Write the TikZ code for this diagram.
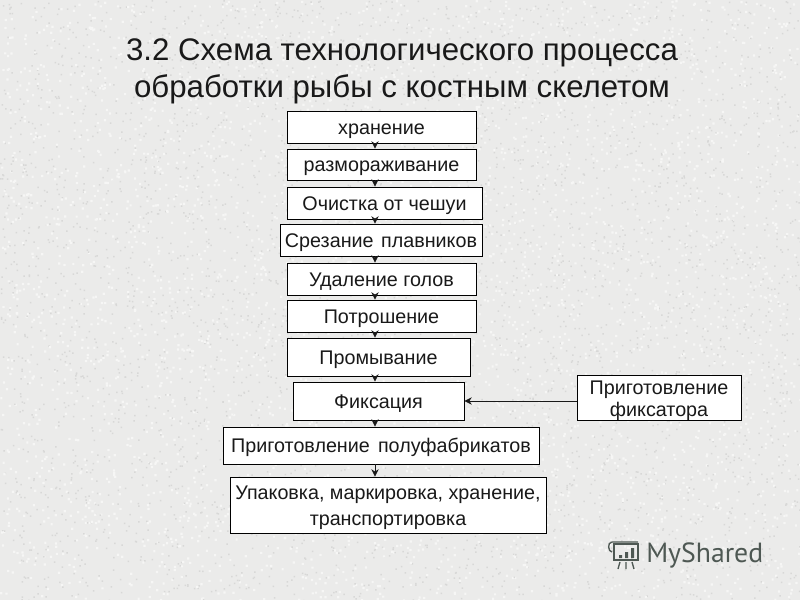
\documentclass[tikz,border=0pt]{standalone}
\usepackage{fontspec}
\setmainfont{Liberation Sans}
\newfontfamily\logofont{PT Sans}
\usetikzlibrary{arrows.meta}
\definecolor{bgbase}{HTML}{EBEBEA}
\definecolor{speckd}{HTML}{D8D8D7}
\definecolor{speckl}{HTML}{F6F6F5}
\definecolor{logoc}{HTML}{4E5853}
\tikzset{
  x=0.75pt,y=-0.75pt,
  box/.style={draw=black,line width=0.7pt,fill=white,inner sep=0pt,font=\fontsize{14.8pt}{18pt}\selectfont,text=black!90},
  singleline/.style={text height=12pt,text depth=1pt},
  multiline/.style={align=center},
  conn/.style={draw=black!90,line width=0.6pt,-{Stealth[length=5.5pt,width=5.5pt]}},
  titletext/.style={font=\fontsize{23.4pt}{27.5pt}\selectfont,text=black!90,inner sep=0pt,align=center}
}
\newcommand{\boxat}[6][singleline]{% style; name, x0,y0,x1,y1,text
  \node[box,#1,minimum width=#5*0.75pt-#3*0.75pt,minimum height=#6*0.75pt-#4*0.75pt] (#2) at ({(#3+#5)/2},{(#4+#6)/2})}
\begin{document}
\begin{tikzpicture}
\useasboundingbox (0,0) rectangle (800,600);
\fill[bgbase] (0,0) rectangle (800,600);
\pgfmathsetseed{4217}
\foreach \b in {1,...,10}{
  \fill[speckl] \foreach \i in {1,...,400}{ (rnd*800,rnd*600) rectangle ++(2.2,2.2) };
  \fill[speckd] \foreach \i in {1,...,400}{ (rnd*800,rnd*600) rectangle ++(1.5,1.5) };
}
\node[titletext] (title) at (402,71.5) {3.2 Схема технологического процесса\\обработки рыбы с костным скелетом};
\boxat{a}{287}{111}{476}{143} {хранение};
\boxat{b}{287}{149}{476}{180} {размораживание};
\boxat{c}{287}{187}{482}{219} {Очистка от чешуи};
\boxat{d}{280}{224}{482}{256} {Срезание\hspace{1.5pt} плавников};
\boxat{e}{287}{263}{476}{295} {Удаление голов};
\boxat{f}{287}{300}{476}{332} {Потрошение};
\boxat{g}{287}{338}{470}{376} {Промывание};
\boxat{h}{293}{382}{464}{420} {Фиксация};
\boxat{i}{223}{427}{539}{464} {Приготовление\hspace{2pt} полуфабрикатов};
\boxat[multiline]{j}{230}{477}{546}{533} {\rule{0pt}{15pt}Упаковка, маркировка, хранение,\\[1.5pt]транспортировка};
\boxat[multiline]{k}{577}{376}{741}{420} {\rule{0pt}{14pt}Приготовление\\[-1.5pt]фиксатора};
\coordinate (ax) at (375,0);
\foreach \p/\q in {a/b,b/c,c/d,d/e,e/f,f/g,g/h,h/i,i/j}{
  \draw[conn] (\p.south -| ax) -- (\q.north -| ax);
}
\draw[conn] (k.west |- h.east) -- (h.east);
% logo
\begin{scope}[draw=logoc,line width=1pt]
  \draw (612,542) -- (638,542) (612,542) .. controls (607,542) and (608,552) .. (612,552);
  \draw (614,544) rectangle (638,560);
  \fill[logoc] (619,555) rectangle ++(3,3) (625,552) rectangle ++(3,6) (631,548) rectangle ++(3,10);
  \draw (620,562) -- (618,569) (626,562) -- (626,569) (632,562) -- (634,569);
\end{scope}
\node[font=\logofont\fontsize{20.8pt}{24pt}\selectfont,text=logoc,inner sep=0pt,anchor=west] (logo) at (646,555) {MyShared};
\end{tikzpicture}
\end{document}
